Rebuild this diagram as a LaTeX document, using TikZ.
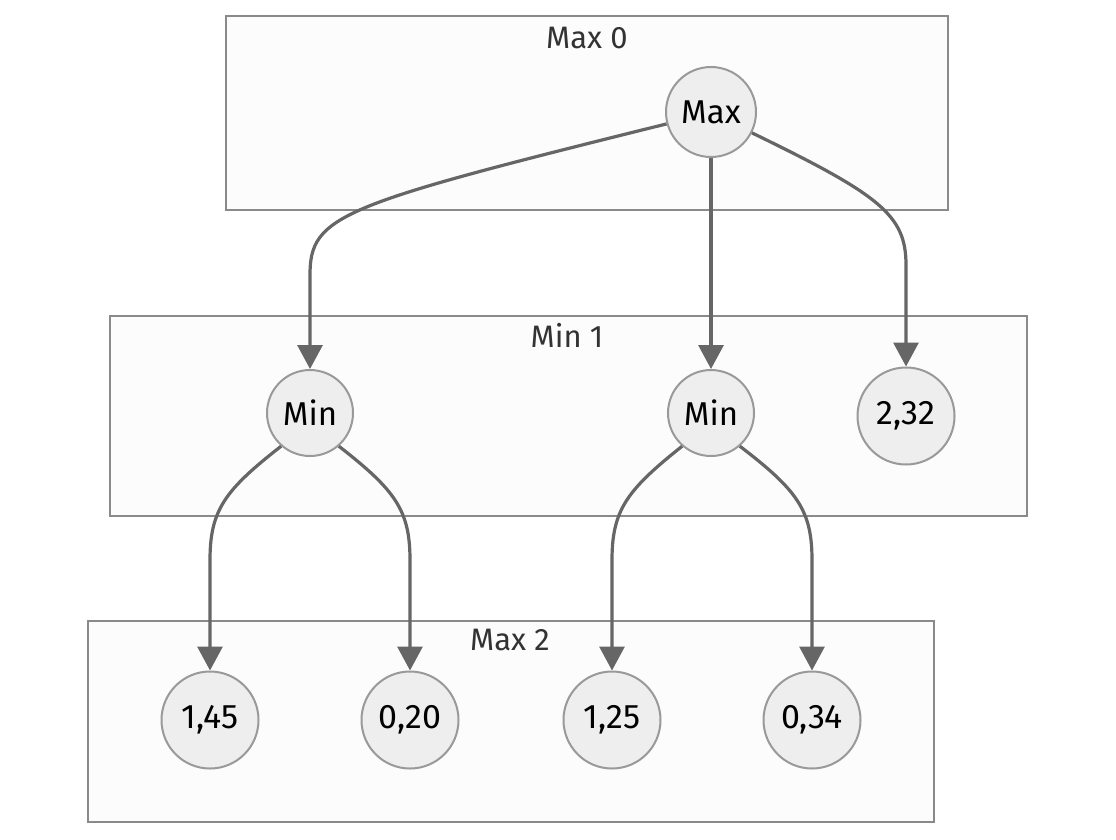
\documentclass[tikz,border=0pt]{standalone}
\usepackage{fontspec}
\setmainfont{Fira Sans}
\usetikzlibrary{arrows.meta}
\definecolor{edgec}{HTML}{666666}
\definecolor{nodefill}{HTML}{EEEEEE}
\definecolor{nodedraw}{HTML}{999999}
\definecolor{boxfill}{HTML}{FCFCFC}
\definecolor{boxdraw}{HTML}{8A8A8A}
\definecolor{labc}{HTML}{333333}
\tikzset{
  grp/.style={draw=boxdraw, fill=boxfill, line width=1.6pt},
  grplabel/.style={text=labc, font=\fontsize{31}{36}\selectfont, inner sep=0pt},
  opnode/.style={circle, draw=nodedraw, fill=nodefill, line width=2pt, minimum size=86pt, inner sep=0pt, text=black, font=\fontsize{33}{38}\selectfont},
  leaf/.style={circle, draw=nodedraw, fill=nodefill, line width=2pt, minimum size=97pt, inner sep=0pt, text=black, font=\fontsize{34}{38}\selectfont},
  edge/.style={draw=edgec, line width=3.2pt, -{Triangle[length=24pt,width=25pt]}, color=edgec}
}
\begin{document}
\begin{tikzpicture}[x=1pt,y=-1pt]
\useasboundingbox (0,0) rectangle (1116,839);
\fill[white] (0,0) rectangle (1116,839);
% groups
\draw[grp] (226,16) rectangle (948,210);
\draw[grp] (110,316) rectangle (1027,516);
\draw[grp] (88,621) rectangle (934,822);
\node[grplabel] (g0) at (587,38) {Max 0};
\node[grplabel] (g1) at (567,335) {Min 1};
\node[grplabel] (g2) at (510,640) {Max 2};
% nodes
\node[opnode, minimum size=90pt] (mx) at (711,112) {Max};
\node[opnode] (mL) at (310,413) {Min};
\node[opnode] (mM) at (711,413) {Min};
\node[leaf] (c) at (906,416) {2,32};
\node[leaf] (a1) at (210,720) {1,45};
\node[leaf] (a2) at (410,720) {0,20};
\node[leaf] (b1) at (612,720) {1,25};
\node[leaf] (b2) at (812,720) {0,34};
% edges
\draw[edge] (mx.195) .. controls (340,205) and (310,215) .. (310,275) -- (mL);
\draw[edge] (mx) -- (mM);
\draw[edge] (mx.333) .. controls (880,195) and (906,215) .. (906,265) -- (c);
\draw[edge] (mL.229) .. controls (225,490) and (210,510) .. (210,560) -- (a1);
\draw[edge] (mL.311) .. controls (395,490) and (410,510) .. (410,560) -- (a2);
\draw[edge] (mM.229) .. controls (627,490) and (612,510) .. (612,560) -- (b1);
\draw[edge] (mM.311) .. controls (797,490) and (812,510) .. (812,560) -- (b2);
\end{tikzpicture}
\end{document}
